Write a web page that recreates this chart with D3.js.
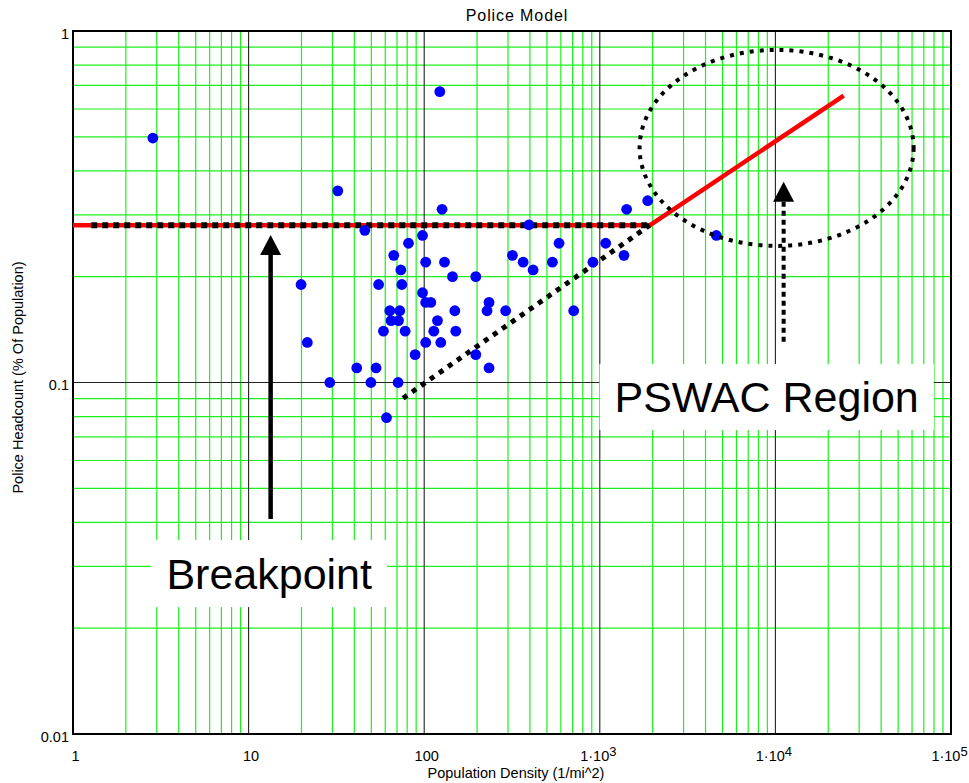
<!DOCTYPE html>
<html>
<head>
<meta charset="utf-8">
<script src="https://cdn.jsdelivr.net/npm/d3@7"></script>
<style>
  html, body { margin: 0; padding: 0; background: #fff; }
  svg { display: block; font-family: "Liberation Sans", Arial, sans-serif; }
</style>
</head>
<body>
<svg id="chart" width="969" height="783"></svg>
<script>
// ---------------- data ----------------
const densities = [2.85, 122.7, 32.2, 126.4, 45.9, 97.8, 81.4, 67.1, 102, 130.5,
  73.6, 144.9, 196.7, 19.9, 55.0, 74.6, 97.8, 102, 109, 63.7,
  72.6, 149.4, 64.8, 71.4, 119, 58.6, 77.9, 113.4, 151.3, 21.6,
  102, 124.3, 88.8, 196.7, 41.3, 53.2, 234, 29.0, 49.7, 71.0,
  61.0, 234, 228, 291, 318, 366, 417, 586, 537, 710,
  395, 914, 1080, 1373, 1422, 1874, 4610];
const headcounts = [0.496, 0.672, 0.351, 0.311, 0.271, 0.262, 0.249, 0.230, 0.220, 0.220,
  0.209, 0.200, 0.200, 0.190, 0.190, 0.190, 0.180, 0.169, 0.169, 0.160,
  0.160, 0.160, 0.150, 0.150, 0.150, 0.140, 0.140, 0.140, 0.140, 0.130,
  0.130, 0.130, 0.120, 0.120, 0.110, 0.110, 0.110, 0.100, 0.100, 0.100,
  0.0794, 0.169, 0.160, 0.160, 0.230, 0.220, 0.209, 0.249, 0.220, 0.160,
  0.281, 0.220, 0.249, 0.230, 0.311, 0.329, 0.262];

// model line (red): flat then rising beyond breakpoint
const modelX = [1, 1923, 24500];
const modelY = [0.28, 0.28, 0.655];
// dotted guide lines
const flatGuideX = [1.27, 1923];
const flatGuideY = [0.28, 0.28];
const slopeGuideX = [75.8, 1923];
const slopeGuideY = [0.0902, 0.28];

const xTickVals = [1, 10, 100, 1000, 10000, 100000];
const xTickBase = ["1", "10", "100", "1\u00B710", "1\u00B710", "1\u00B710"];
const xTickSup  = ["", "", "", "3", "4", "5"];
const yTickVals = [0.01, 0.1, 1];
const yTickLabels = ["0.01", "0.1", "1"];

const titleText = "Police Model";
const xLabel = "Population Density (1/mi^2)";
const yLabel = "Police Headcount (% Of Population)";

// annotation anchors (data coordinates)
const bpArrow = { x: 13.35, from: 0.0409, to: 0.263 };
const pswacArrow = { x: 11140, from: 0.1306, to: 0.3727 };
const pswacEllipse = { x: 10160, y: 0.465 };
const bpLabel = { text: "Breakpoint", x: 13.1, y: 0.0286 };
const pswacLabel = { text: "PSWAC Region", x: 8913, y: 0.0909 };

// ---------------- layout ----------------
const W = 969, H = 783;
const margin = { top: 31, right: 18, bottom: 49, left: 73 };
const iw = W - margin.left - margin.right;
const ih = H - margin.top - margin.bottom;

const svg = d3.select("#chart");
const g = svg.append("g").attr("transform", `translate(${margin.left},${margin.top})`);

const x = d3.scaleLog().domain([1, 1e5]).range([0, iw]);
const y = d3.scaleLog().domain([0.01, 1]).range([ih, 0]);

// minor grid values
const xMinor = [], yMinor = [];
for (let d = 0; d < 5; d++) for (let k = 2; k <= 9; k++) xMinor.push(k * Math.pow(10, d));
for (let d = -2; d < 0; d++) for (let k = 2; k <= 9; k++) yMinor.push(k * Math.pow(10, d));
const xMajor = [10, 100, 1000, 10000];
const yMajor = [0.1];

const grid = g.append("g");
grid.selectAll("line.xm").data(xMinor).join("line")
  .attr("x1", d => x(d)).attr("x2", d => x(d)).attr("y1", 0).attr("y2", ih)
  .attr("stroke", "#1cf01c").attr("stroke-width", 1.2);
grid.selectAll("line.ym").data(yMinor).join("line")
  .attr("class", "ym")
  .attr("y1", d => y(d)).attr("y2", d => y(d)).attr("x1", 0).attr("x2", iw)
  .attr("stroke", "#1cf01c").attr("stroke-width", 1.2);
grid.selectAll("line.xM").data(xMajor).join("line")
  .attr("class", "xM")
  .attr("x1", d => x(d)).attr("x2", d => x(d)).attr("y1", 0).attr("y2", ih)
  .attr("stroke", "#222").attr("stroke-width", 1.1);
grid.selectAll("line.yM").data(yMajor).join("line")
  .attr("class", "yM")
  .attr("y1", d => y(d)).attr("y2", d => y(d)).attr("x1", 0).attr("x2", iw)
  .attr("stroke", "#222").attr("stroke-width", 1.1);

// frame
g.append("rect").attr("x", 0).attr("y", 0).attr("width", iw).attr("height", ih)
  .attr("fill", "none").attr("stroke", "#000").attr("stroke-width", 2);

// axes
const xAxis = d3.axisBottom(x).tickValues(xTickVals).tickSize(0).tickPadding(17)
  .tickFormat((d, i) => xTickBase[i]);
const xg = g.append("g").attr("transform", `translate(0,${ih})`).call(xAxis);
xg.select(".domain").remove();
xg.selectAll("text").each(function(d, i) {
  const t = d3.select(this);
  t.attr("font-size", 14.5).attr("fill", "#000").attr("font-family", "Liberation Sans, Arial, sans-serif");
  if (xTickSup[i]) {
    t.attr("dx", -2);
    t.append("tspan").attr("font-size", 13).attr("dy", -5).text(xTickSup[i]);
  } else {
    t.attr("dx", 2);
  }
});

const yAxis = d3.axisLeft(y).tickValues(yTickVals).tickSize(0).tickPadding(4)
  .tickFormat((d, i) => yTickLabels[i]);
const yg = g.append("g").call(yAxis);
yg.select(".domain").remove();
yg.selectAll("text").attr("font-size", 14.5).attr("fill", "#000").attr("dy", "0.5em")
  .attr("font-family", "Liberation Sans, Arial, sans-serif");

// titles
svg.append("text").attr("x", margin.left + iw / 2 + 5).attr("y", 20.5)
  .attr("text-anchor", "middle").attr("font-size", 16).attr("letter-spacing", 0.9).text(titleText);
svg.append("text").attr("x", margin.left + iw / 2 + 4).attr("y", 777.5)
  .attr("text-anchor", "middle").attr("font-size", 14.5).text(xLabel);
svg.append("text").attr("transform", `translate(23,${margin.top + ih / 2 - 5}) rotate(-90)`)
  .attr("text-anchor", "middle").attr("font-size", 14.5).text(yLabel);

// lines
const line = d3.line().x(d => x(d[0])).y(d => y(d[1]));
g.append("path").datum(modelX.map((v, i) => [v, modelY[i]]))
  .attr("d", line).attr("fill", "none").attr("stroke", "#ff0000")
  .attr("stroke-width", 4.5).attr("stroke-linejoin", "round");
g.append("path").datum(flatGuideX.map((v, i) => [v, flatGuideY[i]]))
  .attr("d", line).attr("fill", "none").attr("stroke", "#000")
  .attr("stroke-width", 6).attr("stroke-dasharray", "6,5");
g.append("path").datum(slopeGuideX.map((v, i) => [v, slopeGuideY[i]]))
  .attr("d", line).attr("fill", "none").attr("stroke", "#000")
  .attr("stroke-width", 5).attr("stroke-dasharray", "5,6");

// points
g.append("g").selectAll("circle").data(densities.map((v, i) => [v, headcounts[i]]))
  .join("circle")
  .attr("cx", d => x(d[0])).attr("cy", d => y(d[1])).attr("r", 5.4)
  .attr("fill", "#0000ff");

// ellipse annotation
g.append("ellipse")
  .attr("cx", x(pswacEllipse.x)).attr("cy", y(pswacEllipse.y))
  .attr("rx", 137).attr("ry", 98)
  .attr("fill", "none").attr("stroke", "#000").attr("stroke-width", 4)
  .attr("stroke-dasharray", "4,6");

// arrows
function arrow(a, dashed) {
  const ax = x(a.x), yTip = y(a.to), yBot = y(a.from);
  const headH = 20, headW = 10.5;
  g.append("line").attr("x1", ax).attr("x2", ax).attr("y1", yBot).attr("y2", yTip + headH)
    .attr("stroke", "#000").attr("stroke-width", dashed ? 4 : 4.5)
    .attr("stroke-dasharray", dashed ? "5,4" : null);
  g.append("path")
    .attr("d", `M${ax},${yTip} L${ax + headW},${yTip + headH} L${ax - headW},${yTip + headH} Z`)
    .attr("fill", "#000");
}
arrow(bpArrow, false);
arrow(pswacArrow, true);

// boxed labels
function boxLabel(l, boxH) {
  const cx = x(l.x), cy = y(l.y);
  const grp = g.append("g");
  const rect = grp.append("rect").attr("fill", "#fff");
  const t = grp.append("text").attr("x", cx).attr("y", cy).attr("dy", "0.35em")
    .attr("text-anchor", "middle").attr("font-size", 43).attr("fill", "#000").text(l.text);
  const bb = t.node().getBBox();
  rect.attr("x", bb.x - 15).attr("width", bb.width + 30)
    .attr("y", cy - boxH / 2).attr("height", boxH);
}
boxLabel(bpLabel, 67);
boxLabel(pswacLabel, 66);
</script>
</body>
</html>
